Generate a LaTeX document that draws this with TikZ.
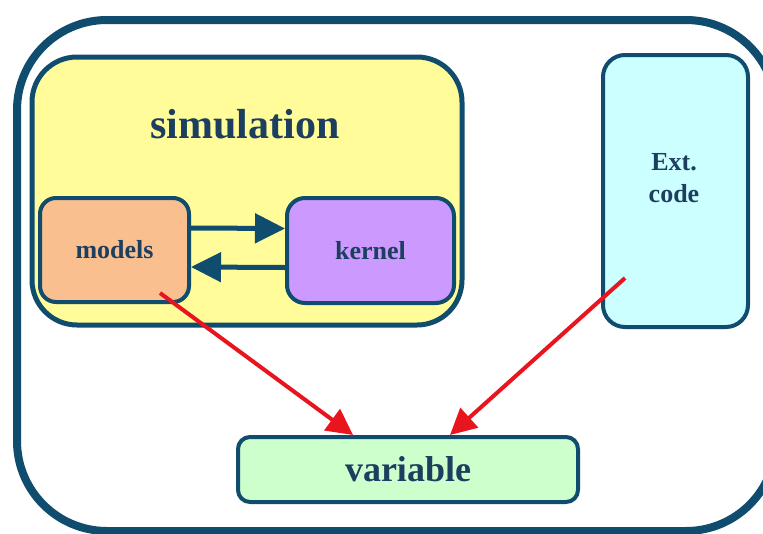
\documentclass[tikz,border=0pt]{standalone}
\usepackage{fontspec}
\setmainfont{Liberation Serif}
\usetikzlibrary{arrows.meta}
\definecolor{frame}{HTML}{0F4C6E}
\definecolor{ink}{HTML}{1C3F5F}
\definecolor{simfill}{HTML}{FFFC99}
\definecolor{modfill}{HTML}{F9BF8F}
\definecolor{kerfill}{HTML}{CC99FF}
\definecolor{extfill}{HTML}{CCFFFF}
\definecolor{varfill}{HTML}{CCFFCC}
\definecolor{flow}{HTML}{E8141E}
\begin{document}
\begin{tikzpicture}[x=1pt,y=-1pt,
  box/.style={draw=frame, line width=4pt, inner sep=0pt, rounded corners=16pt},
  lbl/.style={text=ink, font=\bfseries\fontsize{26}{32}\selectfont, align=center},
  dataflow/.style={draw=frame, line width=5pt, -{Triangle[length=30pt,width=29pt]}},
  access/.style={draw=flow, line width=4pt, -{Triangle[length=26pt,width=26pt]}}]
\useasboundingbox (0,0) rectangle (763,533);
\fill[white] (0,0) rectangle (763,533);
\clip (0,0) rectangle (763,533);

% outer frame
\node[draw=frame, line width=8pt, rounded corners=90pt, inner sep=0pt,
      minimum width=759pt, minimum height=511pt] (outer) at (396.5,275.5) {};

% simulation block
\node[box, fill=simfill, line width=5pt, rounded corners=45pt,
      minimum width=430pt, minimum height=268pt] (sim) at (247,191) {};
\node[text=ink, font=\bfseries\fontsize{42}{48}\selectfont] (simtitle) at (245,124) {simulation};

\node[box, fill=modfill, minimum width=149pt, minimum height=104pt, lbl] (models) at (114.5,250) {models};
\node[box, fill=kerfill, rounded corners=18pt, minimum width=167pt, minimum height=105pt, lbl] (kernel) at (370.5,250.5) {kernel};

\draw[dataflow] ([yshift=22pt]models.east) -- ([yshift=22pt]kernel.west);
\draw[dataflow] ([yshift=-17pt]kernel.west) -- ([yshift=-17pt]models.east);

% external code
\node[box, fill=extfill, rounded corners=22pt, minimum width=145pt, minimum height=272pt] (ext) at (675.5,191) {};
\node[lbl] (extlabel) at (674,178) {Ext.\\code};

% variable
\node[box, fill=varfill, rounded corners=12pt, minimum width=340pt, minimum height=65pt,
      text=ink, font=\bfseries\fontsize{36}{40}\selectfont] (var) at (408,469.5) {variable};

% accesses to the variable
\coordinate (modsrc) at (160,293);
\coordinate (extsrc) at (625,278);
\coordinate (varin1) at (353,435);
\coordinate (varin2) at (450,435);
\draw[access] (modsrc) -- (varin1);
\draw[access] (extsrc) -- (varin2);
\end{tikzpicture}
\end{document}
